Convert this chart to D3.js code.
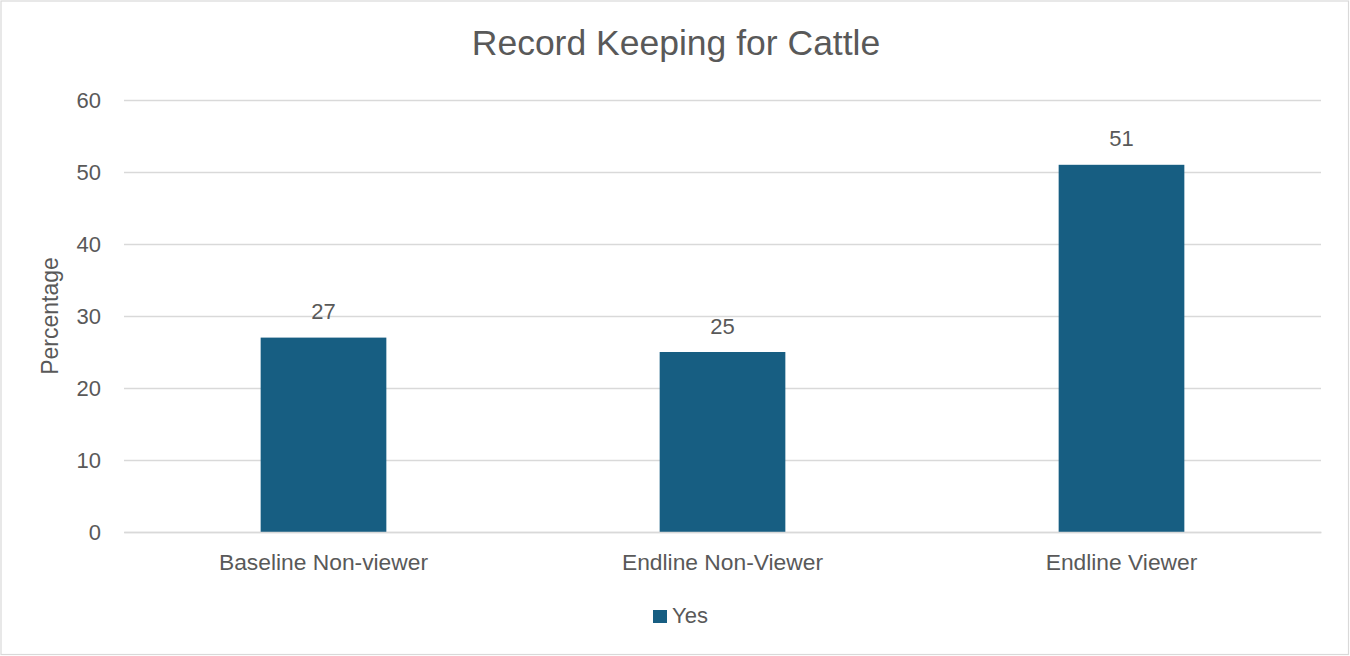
<!DOCTYPE html>
<html>
<head>
<meta charset="utf-8">
<script src="https://cdn.jsdelivr.net/npm/d3@7"></script>
<style>
  html, body { margin: 0; padding: 0; background: #fff; }
  svg { display: block; font-family: "Liberation Sans", Arial, sans-serif; }
</style>
</head>
<body>
<svg id="chart" width="1350" height="656"></svg>
<script>
// Share of cattle keepers who keep records, by survey group
const categories = ["Baseline Non-viewer", "Endline Non-Viewer", "Endline Viewer"];
const yesValues = [27, 25, 51];
const yTicks = [0, 10, 20, 30, 40, 50, 60];
const seriesName = "Yes";
const chartTitle = "Record Keeping for Cattle";
const yAxisTitle = "Percentage";

const W = 1350, H = 656;
const plot = { left: 124, right: 1321, top: 100, bottom: 532 };
const barColor = "#175E82";
const textColor = "#595959";
const gridColor = "#D9D9D9";

const svg = d3.select("#chart");

// chart frame
svg.append("rect")
  .attr("x", 1).attr("y", 1)
  .attr("width", W - 2.5).attr("height", H - 2.5)
  .attr("fill", "#fff")
  .attr("stroke", "#D9D9D9").attr("stroke-width", 1.2);

const x = d3.scaleBand()
  .domain(categories)
  .range([plot.left, plot.right])
  .paddingInner(0.685)
  .paddingOuter(0.3425);

const y = d3.scaleLinear()
  .domain([0, 60])
  .range([plot.bottom, plot.top]);

// gridlines + tick labels
const yAxis = d3.axisLeft(y)
  .tickValues(yTicks)
  .tickSize(-(plot.right - plot.left))
  .tickPadding(23)
  .tickFormat(d3.format("d"));

const gy = svg.append("g")
  .attr("transform", `translate(${plot.left},0)`)
  .call(yAxis);
gy.select(".domain").remove();
gy.selectAll(".tick line")
  .attr("stroke", gridColor).attr("stroke-width", 1.3);
gy.selectAll(".tick text")
  .attr("fill", textColor)
  .attr("font-size", 22);

// bars
svg.append("g")
  .selectAll("rect")
  .data(yesValues)
  .join("rect")
  .attr("x", (d, i) => x(categories[i]))
  .attr("y", d => y(d))
  .attr("width", x.bandwidth())
  .attr("height", d => y(0) - y(d))
  .attr("fill", barColor);

// value labels
svg.append("g")
  .selectAll("text")
  .data(yesValues)
  .join("text")
  .attr("x", (d, i) => x(categories[i]) + x.bandwidth() / 2)
  .attr("y", d => y(d) - 18.5)
  .attr("text-anchor", "middle")
  .attr("fill", textColor)
  .attr("font-size", 22)
  .text(d => d);

// category axis
const gx = svg.append("g")
  .attr("transform", `translate(0,${plot.bottom})`)
  .call(d3.axisBottom(x).tickSize(0).tickPadding(22));
gx.select(".domain").attr("stroke", gridColor).attr("stroke-width", 1.3);
gx.selectAll(".tick text")
  .attr("fill", textColor)
  .attr("font-size", 22.8);

// title
svg.append("text")
  .attr("x", W / 2 + 1)
  .attr("y", 55)
  .attr("text-anchor", "middle")
  .attr("fill", textColor)
  .attr("font-size", 35.5)
  .text(chartTitle);

// y axis title
svg.append("text")
  .attr("transform", `translate(58,${(plot.top + plot.bottom) / 2}) rotate(-90)`)
  .attr("text-anchor", "middle")
  .attr("fill", textColor)
  .attr("font-size", 23)
  .text(yAxisTitle);

// legend
const legend = svg.append("g").attr("transform", "translate(653,610)");
legend.append("rect")
  .attr("width", 14).attr("height", 13)
  .attr("fill", barColor);
legend.append("text")
  .attr("x", 19).attr("y", 13)
  .attr("fill", textColor)
  .attr("font-size", 22)
  .text(seriesName);
</script>
</body>
</html>
